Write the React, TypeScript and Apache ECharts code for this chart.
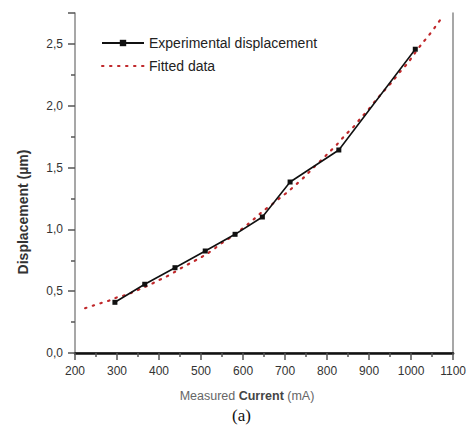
import React, { useEffect, useRef } from "react";
import * as echarts from "echarts";

const expX = [295, 366, 438, 510, 581, 646, 712, 828, 1010];
const expY = [0.41, 0.556, 0.69, 0.825, 0.96, 1.1, 1.383, 1.642, 2.457];

const fitX = [224, 243, 263, 283, 300, 321, 340, 360, 380, 397, 417, 437, 456, 476, 496, 516, 535, 554, 573, 592, 611, 630, 648, 668, 689, 708, 727, 747, 766, 785, 804, 824, 842, 862, 880, 899, 918, 937, 956, 975, 993, 1007, 1025, 1042, 1058, 1074];
const fitY = [0.362, 0.383, 0.405, 0.426, 0.45, 0.469, 0.495, 0.525, 0.555, 0.585, 0.617, 0.655, 0.693, 0.73, 0.766, 0.806, 0.852, 0.9, 0.94, 0.99, 1.04, 1.095, 1.149, 1.2, 1.257, 1.308, 1.365, 1.427, 1.494, 1.556, 1.62, 1.688, 1.758, 1.826, 1.899, 1.971, 2.052, 2.125, 2.198, 2.279, 2.349, 2.417, 2.498, 2.568, 2.64, 2.716];

const xTicks = { min: 200, max: 1100, interval: 100 };
const yTicks = { min: 0, max: 2.75, interval: 0.5 };

const seriesNames = ["Experimental displacement", "Fitted data"];
const xTitle = "Measured {b|Current} (mA)";
const yTitle = "Displacement (µm)";
const caption = "(a)";

const FONT = "Arial, 'Liberation Sans', sans-serif";

export default function App() {
  const ref = useRef<HTMLDivElement>(null);
  useEffect(() => {
    if (!ref.current) return;
    const chart = echarts.init(ref.current, null, { renderer: "svg" });
    const gray = "#8a8a8a";
    chart.setOption({
      animation: false,
      backgroundColor: "#fff",
      grid: { left: 75, top: 13, right: 14, bottom: 76 },
      legend: {
        left: 101,
        top: 36,
        padding: 0,
        orient: "vertical",
        itemWidth: 42,
        itemHeight: 8,
        itemGap: 9,
        textStyle: { fontFamily: FONT, fontSize: 14, color: "#222" },
        data: [
          { name: seriesNames[0] },
          { name: seriesNames[1], itemStyle: { color: "rgba(0,0,0,0)", borderWidth: 0 } },
        ],
      },
      xAxis: [
        {
          type: "value",
          min: xTicks.min,
          max: xTicks.max,
          interval: xTicks.interval,
          position: "bottom",
          axisLine: { show: true, lineStyle: { color: gray, width: 1.5 } },
          axisTick: { show: true, inside: false, length: 7, lineStyle: { color: "#555", width: 1.5 } },
          minorTick: { show: true, splitNumber: 2, length: 4, lineStyle: { color: "#555", width: 1.5 } },
          axisLabel: {
            fontFamily: FONT,
            fontSize: 12,
            color: "#333",
            margin: 12,
            formatter: (v: number) => String(v),
          },
          splitLine: { show: false },
        },
        {
          type: "value",
          min: xTicks.min,
          max: xTicks.max,
          position: "top",
          axisLine: { show: true, lineStyle: { color: "#111", width: 2.5 } },
          axisTick: { show: false },
          axisLabel: { show: false },
          splitLine: { show: false },
        },
      ],
      yAxis: [
        {
          type: "value",
          min: yTicks.min,
          max: yTicks.max,
          interval: yTicks.interval,
          position: "left",
          axisLine: { show: true, lineStyle: { color: gray, width: 1.5 } },
          axisTick: { show: true, inside: false, length: 7, lineStyle: { color: "#555", width: 1.5 } },
          minorTick: { show: true, splitNumber: 2, length: 4, lineStyle: { color: "#555", width: 1.5 } },
          axisLabel: {
            fontFamily: FONT,
            fontSize: 12,
            color: "#333",
            margin: 12,
            showMaxLabel: false,
            formatter: (v: number) => v.toFixed(1).replace(".", ","),
          },
          splitLine: { show: false },
        },
        {
          type: "value",
          min: yTicks.min,
          max: yTicks.max,
          position: "right",
          axisLine: { show: true, lineStyle: { color: gray, width: 1.5 } },
          axisTick: { show: false },
          axisLabel: { show: false },
          splitLine: { show: false },
        },
      ],
      series: [
        {
          name: seriesNames[1],
          type: "line",
          data: fitX.map((x, i) => [x, fitY[i]]),
          smooth: 0.3,
          showSymbol: false,
          symbol: "none",
          lineStyle: { color: "#c0282b", width: 2.2, type: [1.5, 6.5], cap: "round" },
          itemStyle: { color: "#c0282b" },
          z: 2,
        },
        {
          name: seriesNames[0],
          type: "line",
          data: expX.map((x, i) => [x, expY[i]]),
          symbol: "rect",
          symbolSize: 5,
          lineStyle: { color: "#111", width: 1.6 },
          itemStyle: { color: "#111" },
          z: 3,
        },
      ],
      graphic: [
        {
          type: "text",
          x: 247,
          y: 396,
          style: {
            text: xTitle,
            align: "center",
            verticalAlign: "middle",
            fontFamily: FONT,
            fontSize: 12.5,
            fill: "#666",
            rich: { b: { fontFamily: FONT, fontSize: 12.5, fontWeight: "bold", fill: "#444" } },
          },
        },
        {
          type: "text",
          x: 23,
          y: 212,
          rotation: Math.PI / 2,
          style: {
            text: yTitle,
            align: "center",
            verticalAlign: "middle",
            fontFamily: FONT,
            fontSize: 14,
            fontWeight: "bold",
            fill: "#333",
          },
        },
        {
          type: "text",
          left: 232,
          top: 407,
          style: { text: caption, fontFamily: "'Liberation Serif', 'Times New Roman', serif", fontSize: 17, fill: "#111" },
        },
      ],
    });
    return () => chart.dispose();
  }, []);
  return (
    <div
      ref={ref}
      style={{ position: "absolute", left: 0, top: 0, width: 469, height: 429 }}
    />
  );
}
